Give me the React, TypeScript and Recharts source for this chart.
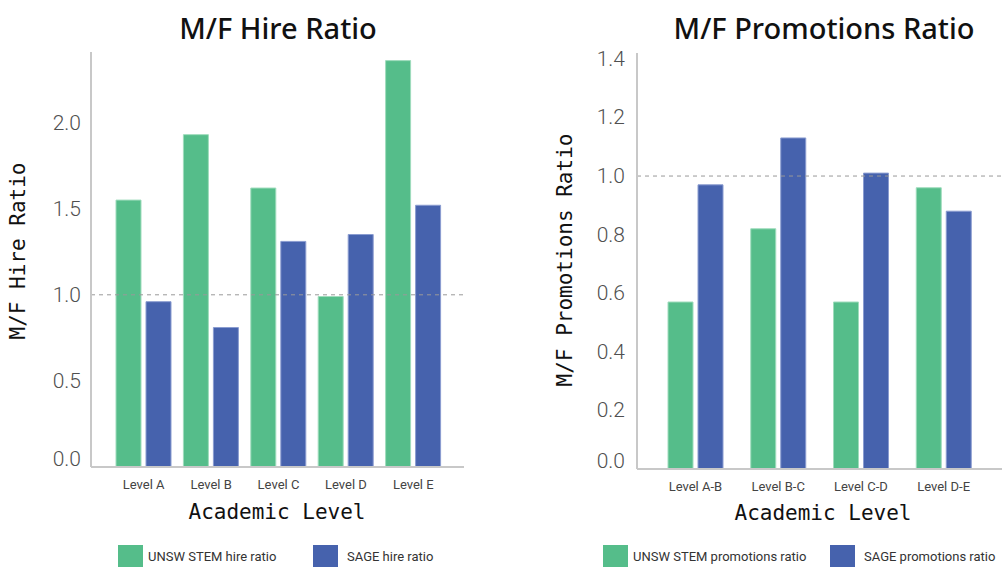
import React from 'react';
import { BarChart, Bar, XAxis, YAxis, ReferenceLine } from 'recharts';

const hireLevels = ['Level A', 'Level B', 'Level C', 'Level D', 'Level E'];
const unswHire = [1.55, 1.93, 1.62, 0.99, 2.36];
const sageHire = [0.96, 0.81, 1.31, 1.35, 1.52];
const hireTicks = [0, 0.5, 1, 1.5, 2];

const promoLevels = ['Level A-B', 'Level B-C', 'Level C-D', 'Level D-E'];
const unswPromo = [0.57, 0.82, 0.57, 0.96];
const sagePromo = [0.97, 1.13, 1.01, 0.88];
const promoTicks = [0, 0.2, 0.4, 0.6, 0.8, 1, 1.2, 1.4];

const GREEN = '#55bd8a';
const GREEN_EDGE = '#9fdcbc';
const BLUE = '#4662ad';
const BLUE_EDGE = '#8a9cd0';
const AXIS = '#c8c8c8';

const hireData = hireLevels.map((level, i) => ({
    level,
    unsw: unswHire[i],
    sage: sageHire[i],
}));

const promoData = promoLevels.map((level, i) => ({
    level,
    unsw: unswPromo[i],
    sage: sagePromo[i],
}));

function YTick(props: any) {
    const { x, y, payload } = props;
    // the zero label sits a little above the baseline
    const ty = payload.value === 0 ? y - 8 : y;
    return (
        <text
            x={x}
            y={ty}
            textAnchor="end"
            dominantBaseline="central"
            fontFamily="Roboto"
            fontWeight={300}
            fontSize={21}
            fill="#505050"
        >
            {payload.value.toFixed(1)}
        </text>
    );
}

function XTick(props: any) {
    const { x, y, payload } = props;
    return (
        <text
            x={x}
            y={y + 9}
            textAnchor="middle"
            dominantBaseline="central"
            fontFamily="Roboto"
            fontSize={13}
            fill="#444"
        >
            {payload.value}
        </text>
    );
}

const titleStyle: React.CSSProperties = {
    position: 'absolute',
    top: 9,
    transform: 'translateX(-50%)',
    fontFamily: '"Noto Sans", sans-serif',
    fontWeight: 500,
    fontSize: 29,
    lineHeight: '38px',
    color: '#111',
    whiteSpace: 'nowrap',
};

const axisTitleStyle: React.CSSProperties = {
    position: 'absolute',
    fontFamily: '"DejaVu Sans Mono", monospace',
    fontSize: 21,
    lineHeight: '24px',
    color: '#111',
    whiteSpace: 'nowrap',
};

const legendText: React.CSSProperties = {
    position: 'absolute',
    top: 548,
    fontFamily: 'Roboto',
    fontSize: 13,
    lineHeight: '18px',
    color: '#333',
    whiteSpace: 'nowrap',
};

function Swatch({ left, color }: { left: number; color: string }) {
    return (
        <div
            style={{
                position: 'absolute',
                left,
                top: 545,
                width: 25,
                height: 25,
                background: color,
            }}
        />
    );
}

export default function App() {
    return (
        <div
            style={{
                position: 'absolute',
                left: 0,
                top: 0,
                width: 1002,
                height: 567,
                overflow: 'hidden',
                background: '#fff',
            }}
        >
            <div style={{ position: 'absolute', left: 0, top: 0 }}>
                <BarChart
                    width={500}
                    height={567}
                    data={hireData}
                    margin={{ top: 52, right: 36, left: 0, bottom: 70 }}
                    barSize={25}
                    barGap={5}
                >
                    <XAxis
                        dataKey="level"
                        height={30}
                        padding={{ left: 19, right: 17 }}
                        axisLine={{ stroke: AXIS, strokeWidth: 2 }}
                        tickLine={false}
                        tick={<XTick />}
                        interval={0}
                    />
                    <YAxis
                        width={91}
                        domain={[0, 2.41]}
                        ticks={hireTicks}
                        axisLine={{ stroke: AXIS, strokeWidth: 2 }}
                        tickLine={false}
                        tickMargin={4}
                        tick={<YTick />}
                    />
                    <ReferenceLine y={1} stroke="#999" strokeDasharray="4 4" />
                    <Bar dataKey="unsw" fill={GREEN} stroke={GREEN_EDGE} isAnimationActive={false} />
                    <Bar dataKey="sage" fill={BLUE} stroke={BLUE_EDGE} isAnimationActive={false} />
                </BarChart>
            </div>

            <div style={{ position: 'absolute', left: 500, top: 0 }}>
                <BarChart
                    width={502}
                    height={567}
                    data={promoData}
                    margin={{ top: 53, right: 0, left: 0, bottom: 68 }}
                    barSize={25}
                    barGap={5}
                >
                    <XAxis
                        dataKey="level"
                        height={30}
                        padding={{ left: 17, right: 17 }}
                        axisLine={{ stroke: AXIS, strokeWidth: 2 }}
                        tickLine={false}
                        tick={<XTick />}
                        interval={0}
                    />
                    <YAxis
                        width={137}
                        domain={[0, 1.42]}
                        ticks={promoTicks}
                        axisLine={{ stroke: AXIS, strokeWidth: 2 }}
                        tickLine={false}
                        tickMargin={6}
                        tick={<YTick />}
                    />
                    <ReferenceLine y={1} stroke="#999" strokeDasharray="4 4" />
                    <Bar dataKey="unsw" fill={GREEN} stroke={GREEN_EDGE} isAnimationActive={false} />
                    <Bar dataKey="sage" fill={BLUE} stroke={BLUE_EDGE} isAnimationActive={false} />
                </BarChart>
            </div>

            {/* titles */}
            <div style={{ ...titleStyle, left: 278 }}>M/F Hire Ratio</div>
            <div style={{ ...titleStyle, left: 824 }}>M/F Promotions Ratio</div>

            {/* axis titles */}
            <div style={{ ...axisTitleStyle, left: 277, top: 500, transform: 'translateX(-50%)' }}>
                Academic Level
            </div>
            <div style={{ ...axisTitleStyle, left: 823, top: 501, transform: 'translateX(-50%)' }}>
                Academic Level
            </div>
            <div
                style={{
                    ...axisTitleStyle,
                    left: 18,
                    top: 251,
                    transform: 'translate(-50%, -50%) rotate(-90deg)',
                }}
            >
                M/F Hire Ratio
            </div>
            <div
                style={{
                    ...axisTitleStyle,
                    left: 565,
                    top: 260,
                    transform: 'translate(-50%, -50%) rotate(-90deg)',
                }}
            >
                M/F Promotions Ratio
            </div>

            {/* legends */}
            <Swatch left={118} color={GREEN} />
            <div style={{ ...legendText, left: 148 }}>UNSW STEM hire ratio</div>
            <Swatch left={313} color={BLUE} />
            <div style={{ ...legendText, left: 347 }}>SAGE hire ratio</div>

            <Swatch left={603} color={GREEN} />
            <div style={{ ...legendText, left: 633 }}>UNSW STEM promotions ratio</div>
            <Swatch left={830} color={BLUE} />
            <div style={{ ...legendText, left: 864 }}>SAGE promotions ratio</div>
        </div>
    );
}
